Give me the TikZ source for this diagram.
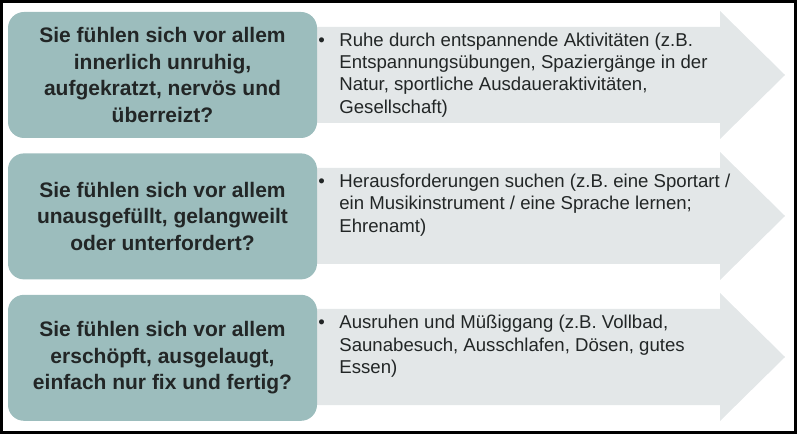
\documentclass[tikz,border=0pt]{standalone}
\usepackage{fontspec}
\setmainfont{Liberation Sans}
\usetikzlibrary{positioning}
\definecolor{frageteal}{RGB}{156,189,189}
\definecolor{pfeilgrau}{RGB}{227,231,232}
\definecolor{textdunkel}{RGB}{34,38,38}

\begin{document}
\begin{tikzpicture}[x=1pt,y=-1pt]
    \tikzstyle{frage}=[rectangle, rounded corners=16pt, fill=frageteal, text=textdunkel, minimum width=309pt, minimum height=126pt, align=center, font=\fontsize{21}{26.6}\selectfont\bfseries]
    \tikzstyle{pfeil}=[fill=pfeilgrau]
    \tikzstyle{antwort}=[inner sep=0pt, text=textdunkel, font=\fontsize{18.6}{22.3}\selectfont]
    \useasboundingbox (0,0) rectangle (797,435);
    \draw[line width=3pt] (1.5,1.5) rectangle (795,432);
    % pfeile
    \fill[pfeil] (313,27) -- (720,27) -- (720,11) -- (785,75) -- (720,139) -- (720,123) -- (313,123) -- cycle;
    \fill[pfeil] (313,168) -- (720,168) -- (720,152) -- (785,216) -- (720,280) -- (720,264) -- (313,264) -- cycle;
    \fill[pfeil] (313,309) -- (720,309) -- (720,293) -- (785,357) -- (720,421) -- (720,405) -- (313,405) -- cycle;
    % fragen
    \node[frage] (frage1) at (162.5,75) {Sie fühlen sich vor allem\\innerlich unruhig,\\aufgekratzt, nervös und\\überreizt?};
    \node[frage, below=15pt of frage1] (frage2) {Sie fühlen sich vor allem\\unausgefüllt, gelangweilt\\oder unterfordert?};
    \node[frage, below=15pt of frage2] (frage3) {Sie fühlen sich vor allem\\erschöpft, ausgelaugt,\\einfach nur fix und fertig?};
    % antworten
    \node[antwort, below right=18.5pt and 1pt of frage1.north east] (antwort1) {\begin{tabular}{@{}p{21pt}@{}l@{}}
        \textbullet & Ruhe durch entspannende Aktivitäten (z.B.\\
        & Entspannungsübungen, Spaziergänge in der\\
        & Natur, sportliche Ausdaueraktivitäten,\\
        & Gesellschaft)\end{tabular}};
    \node[antwort, below right=18.5pt and 1pt of frage2.north east] (antwort2) {\begin{tabular}{@{}p{21pt}@{}l@{}}
        \textbullet & Herausforderungen suchen (z.B. eine Sportart /\\
        & ein Musikinstrument / eine Sprache lernen;\\
        & Ehrenamt)\end{tabular}};
    \node[antwort, below right=18.5pt and 1pt of frage3.north east] (antwort3) {\begin{tabular}{@{}p{21pt}@{}l@{}}
        \textbullet & Ausruhen und Müßiggang (z.B. Vollbad,\\
        & Saunabesuch, Ausschlafen, Dösen, gutes\\
        & Essen)\end{tabular}};
\end{tikzpicture}
\end{document}
